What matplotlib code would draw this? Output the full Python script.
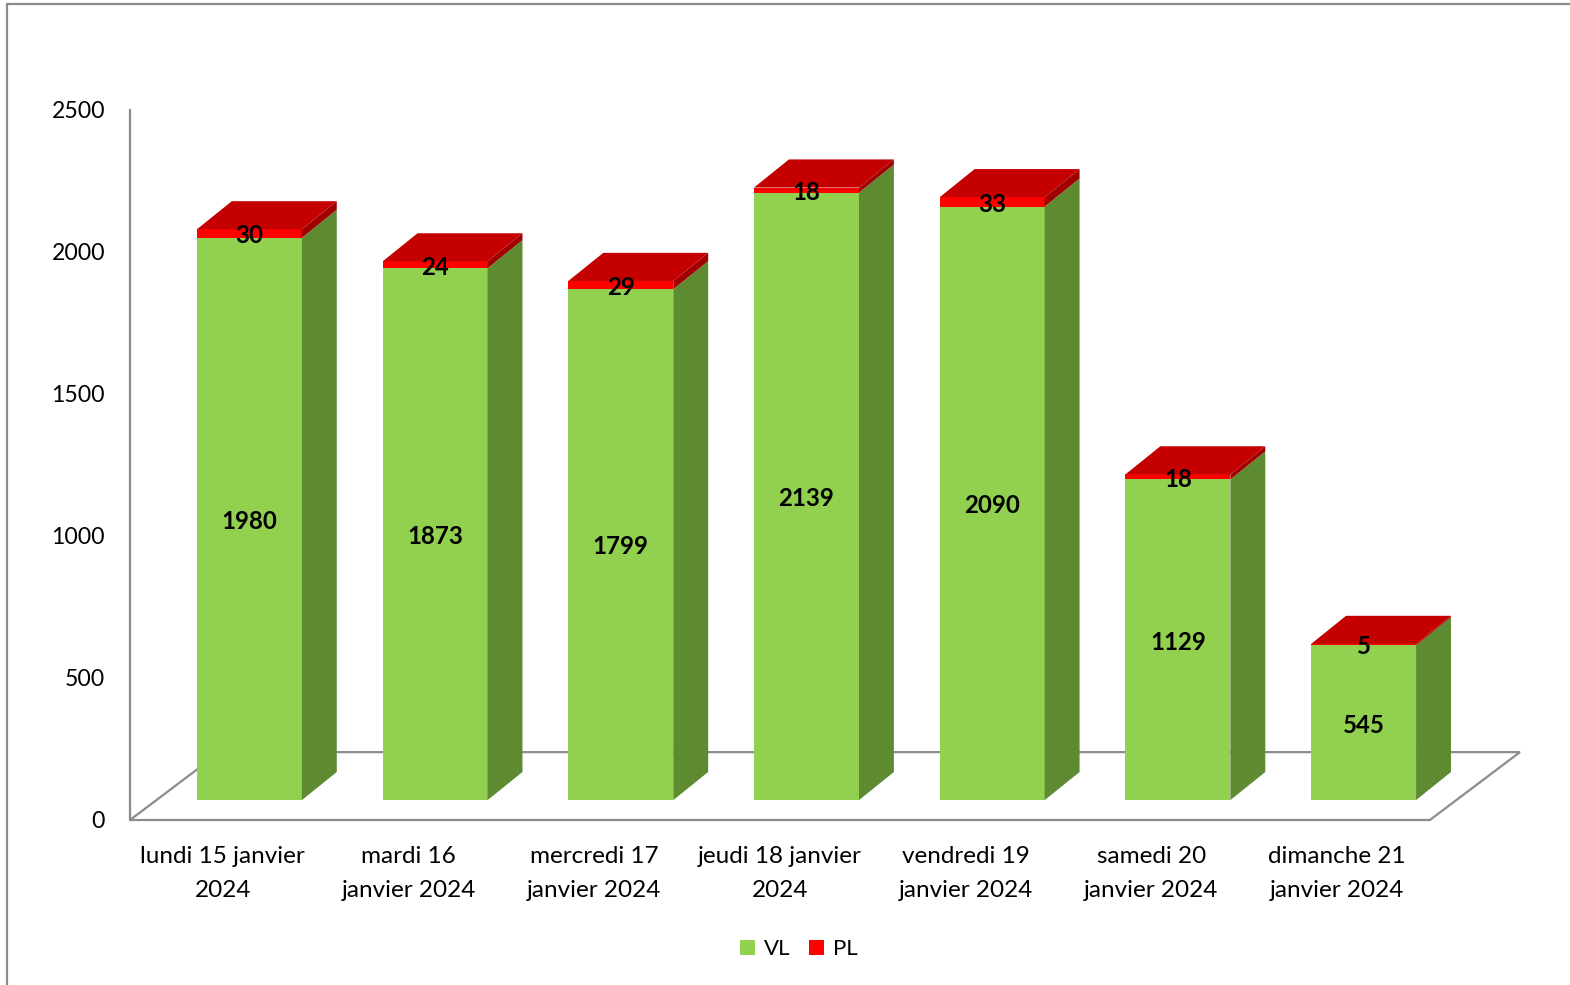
import matplotlib.pyplot as plt
from matplotlib.patches import Polygon, Patch, Rectangle

# ---------- DATA ----------
days = ["lundi 15 janvier\n2024", "mardi 16\njanvier 2024", "mercredi 17\njanvier 2024",
        "jeudi 18 janvier\n2024", "vendredi 19\njanvier 2024", "samedi 20\njanvier 2024",
        "dimanche 21\njanvier 2024"]
vl = [1980, 1873, 1799, 2139, 2090, 1129, 545]
pl = [30, 24, 29, 18, 33, 18, 5]
y_ticks = [0, 500, 1000, 1500, 2000, 2500]
# --------------------------

# fake 3D look (offsets in data units)
BAR_W = 0.565
FLOOR_DX, FLOOR_DY = 0.485, 239
SHIFT_X, SHIFT_Y = 0.143, 70
DEPTH_DX, DEPTH_DY = 0.188, 99

GREEN, GREEN_SIDE = '#92D050', '#5E8A32'
RED, RED_TOP, RED_SIDE = '#FF0000', '#C40000', '#A00000'
GRID = '#8c8c8c'

plt.rcParams['font.family'] = ['Lato', 'DejaVu Sans']

W, H = 1570, 985
fig = plt.figure(figsize=(W / 100, H / 100), dpi=100)
ax = fig.add_axes([130 / W, (H - 820) / H, 7.5 * 185.7 / W, 710 / H])
ax.set_xlim(0, 7.5)
ax.set_ylim(0, 2500)

# floor
floor = Polygon([(0, 0), (7, 0), (7 + FLOOR_DX, FLOOR_DY), (FLOOR_DX, FLOOR_DY)],
                closed=True, facecolor='white', edgecolor=GRID, lw=1.6, clip_on=False)
ax.add_patch(floor)


def box(x0, y0, h, front, side, top):
    x1 = x0 + BAR_W
    ax.add_patch(Polygon([(x0, y0), (x1, y0), (x1, y0 + h), (x0, y0 + h)],
                         facecolor=front, edgecolor='none', clip_on=False))
    ax.add_patch(Polygon([(x1, y0), (x1 + DEPTH_DX, y0 + DEPTH_DY),
                          (x1 + DEPTH_DX, y0 + h + DEPTH_DY), (x1, y0 + h)],
                         facecolor=side, edgecolor='none', clip_on=False))
    if top is not None:
        ax.add_patch(Polygon([(x0, y0 + h), (x1, y0 + h), (x1 + DEPTH_DX, y0 + h + DEPTH_DY),
                              (x0 + DEPTH_DX, y0 + h + DEPTH_DY)],
                             facecolor=top, edgecolor='none', clip_on=False))


for i, (v, p) in enumerate(zip(vl, pl)):
    x0 = i + (1 - BAR_W) / 2 + SHIFT_X
    box(x0, SHIFT_Y, v, GREEN, GREEN_SIDE, None)
    box(x0, SHIFT_Y + v, p, RED, RED_SIDE, RED_TOP)
    xc = x0 + BAR_W / 2
    ax.text(xc, SHIFT_Y + v / 2 - 8, str(v), ha='center', va='center',
            fontsize=17.3, fontweight='bold')
    ax.text(xc, SHIFT_Y + v + p / 2 - 8, str(p), ha='center', va='center',
            fontsize=17.3, fontweight='bold')

# axes styling
for s in ['top', 'right', 'bottom']:
    ax.spines[s].set_visible(False)
ax.spines['left'].set_color(GRID)
ax.spines['left'].set_linewidth(1.6)
ax.set_yticks(y_ticks)
ax.tick_params(axis='y', length=0, pad=18, labelsize=16.6)
ax.set_xticks([i + 0.5 for i in range(len(days))])
ax.set_xticklabels(days, fontsize=17.5, linespacing=1.72)
ax.tick_params(axis='x', length=0, pad=19)

handles = [Patch(facecolor=GREEN, label='VL'), Patch(facecolor=RED, label='PL')]
fig.legend(handles=handles, loc='center', bbox_to_anchor=(799 / W, 1 - 949 / H),
           ncol=2, frameon=False, fontsize=16, handlelength=0.68, handleheight=0.68,
           handletextpad=0.4, columnspacing=0.85)

# chart border
fig.add_artist(Rectangle((7 / W, -0.01), 1.1, (H - 4) / H + 0.01, transform=fig.transFigure,
                         fill=False, edgecolor=GRID, lw=1.6))

fig.savefig('out.png', dpi=100)
